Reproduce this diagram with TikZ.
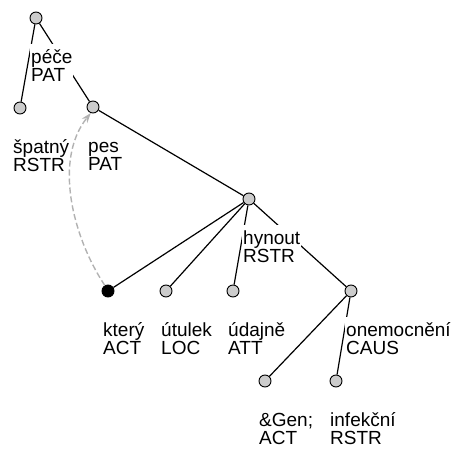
\documentclass[tikz,border=0pt]{standalone}
\usepackage{fontspec}
\setmainfont{Liberation Sans}
\usetikzlibrary{arrows.meta,calc}
\begin{document}
\begin{tikzpicture}[x=1pt,y=-1pt,
  tnode/.style={circle,draw=black,fill=black!20,line width=0.9pt,minimum size=12pt,inner sep=0pt},
  tnodeblack/.style={tnode,fill=black},
  edge/.style={line width=1.2pt},
  lbl/.style={anchor=base west,inner xsep=1pt,inner ysep=0pt,
              font=\fontsize{19}{18}\selectfont},
  lblmask/.style={lbl,fill=white},
  coref/.style={draw=black!30,dash pattern=on 6pt off 3pt,line width=1.4pt,
                -{Stealth[length=10pt,width=7pt]}}]
\useasboundingbox (0,0) rectangle (453,450);

% tree nodes
\node[tnode] (root) at (36,18) {};
\node[tnode] (spatny) at (20,108) {};
\node[tnode] (pes) at (93,107) {};
\node[tnode] (hynout) at (249,199) {};
\node[tnodeblack] (ktery) at (108,291) {};
\node[tnode] (utulek) at (166,291) {};
\node[tnode] (udajne) at (233,291) {};
\node[tnode] (onemoc) at (351,291) {};
\node[tnode] (gen) at (265,381) {};
\node[tnode] (infek) at (336,381) {};

% edges
\draw[edge] (root) -- (spatny);
\draw[edge] (root) -- (pes);
\draw[edge] (pes) -- (hynout);
\draw[edge] (hynout) -- (ktery);
\draw[edge] (hynout) -- (utulek);
\draw[edge] (hynout) -- (udajne);
\draw[edge] (hynout) -- (onemoc);
\draw[edge] (onemoc) -- (gen);
\draw[edge] (onemoc) -- (infek);

% labels (lemma and functor), with a taller first row;
% labels lying over an edge hide it behind a white box
\newcommand{\lbltext}[2]{\begin{tabular}[t]{@{}l@{}}\rule{0pt}{19pt}#1\\#2\end{tabular}}
\node[lblmask] (l-root) at ($(root)+(-6,45)$) {\lbltext{péče}{PAT}};
\node[lbl] (l-spatny) at ($(spatny)+(-8,45)$) {\lbltext{špatný}{RSTR}};
\node[lbl] (l-pes) at ($(pes)+(-6,45)$) {\lbltext{pes}{PAT}};
\node[lblmask] (l-hynout) at ($(hynout)+(-7,45)$) {\lbltext{hynout}{RSTR}};
\node[lbl] (l-ktery) at ($(ktery)+(-6,45)$) {\lbltext{který}{ACT}};
\node[lbl] (l-utulek) at ($(utulek)+(-6,45)$) {\lbltext{útulek}{LOC}};
\node[lbl] (l-udajne) at ($(udajne)+(-6,45)$) {\lbltext{údajně}{ATT}};
\node[lblmask] (l-onemoc) at ($(onemoc)+(-6,45)$) {\lbltext{onemocnění}{CAUS}};
\node[lbl] (l-gen) at ($(gen)+(-7,45)$) {\lbltext{\&Gen;}{ACT}};
\node[lbl] (l-infek) at ($(infek)+(-7,45)$) {\lbltext{infekční}{RSTR}};

% coreference arrow
\draw[coref] (ktery.120) .. controls +(-33,-50) and +(-37,46) .. (pes.250);
\end{tikzpicture}
\end{document}
